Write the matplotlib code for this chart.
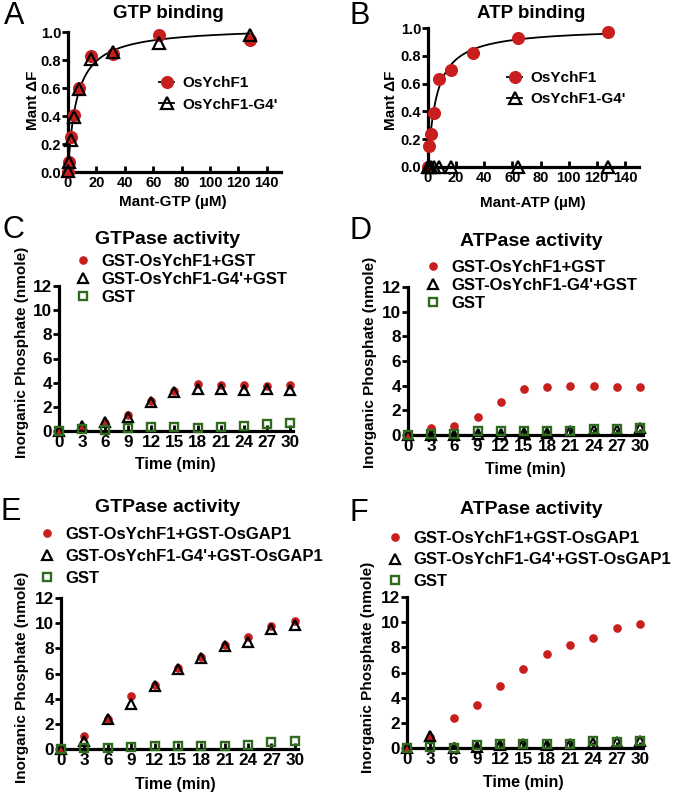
import numpy as np
import matplotlib
matplotlib.use("Agg")
import matplotlib.pyplot as plt
from matplotlib.lines import Line2D

plt.rcParams['font.family'] = ['Liberation Sans', 'DejaVu Sans']
plt.rcParams['font.weight'] = 'bold'

# ---------------- data ----------------
conc = [0, 1, 2, 4, 8, 16, 32, 64, 128]
gtp_wt = [0.0, 0.07, 0.25, 0.41, 0.60, 0.83, 0.84, 0.98, 0.94]
gtp_g4 = [0.01, 0.07, 0.23, 0.39, 0.59, 0.81, 0.86, 0.92, 0.98]
atp_wt = [0.0, 0.15, 0.24, 0.39, 0.63, 0.70, 0.82, 0.93, 0.97]
atp_g4_conc = [0, 1, 2, 4, 8, 16, 64, 128]
atp_g4 = [0, 0, 0, 0, 0, 0, 0, 0]

time = [0, 3, 6, 9, 12, 15, 18, 21, 24, 27, 30]
c_wt = [0, 0.35, 0.7, 1.3, 2.5, 3.3, 3.85, 3.8, 3.8, 3.75, 3.8]
c_g4 = [0, 0.4, 0.75, 1.2, 2.4, 3.25, 3.5, 3.45, 3.4, 3.45, 3.4]
c_gst = [0, 0.15, 0.05, 0.25, 0.3, 0.3, 0.25, 0.35, 0.45, 0.6, 0.65]

d_wt = [0, 0.55, 0.7, 1.5, 2.7, 3.7, 3.9, 3.95, 4.0, 3.9, 3.9]
d_g4 = [0, 0, 0, 0.05, 0.1, 0.2, 0.2, 0.3, 0.4, 0.4, 0.55]
d_gst = [0, 0.05, 0.05, 0.3, 0.3, 0.3, 0.3, 0.35, 0.5, 0.5, 0.6]

e_wt = [0, 1.05, 2.4, 4.2, 5.05, 6.45, 7.35, 8.25, 8.9, 9.8, 10.2]
e_g4 = [0, 0.6, 2.35, 3.6, 5.0, 6.35, 7.25, 8.2, 8.5, 9.5, 9.85]
e_gst = [0, 0.05, 0.05, 0.15, 0.25, 0.25, 0.2, 0.25, 0.35, 0.55, 0.6]

f_wt = [0, 0.9, 2.4, 3.45, 4.9, 6.3, 7.5, 8.2, 8.75, 9.55, 9.85]
f_g4 = [0, 0.95, 0, 0.1, 0.2, 0.3, 0.25, 0.35, 0.4, 0.45, 0.55]
f_gst = [0, 0.05, 0.0, 0.25, 0.3, 0.3, 0.3, 0.35, 0.55, 0.5, 0.55]

binding_xticks = [0, 20, 40, 60, 80, 100, 120, 140]
binding_yticks = [0.0, 0.2, 0.4, 0.6, 0.8, 1.0]
time_ticks = [0, 3, 6, 9, 12, 15, 18, 21, 24, 27, 30]
pi_ticks = [0, 2, 4, 6, 8, 10, 12]

RED = '#C81E1E'
GREEN = '#2F6B1F'

W, H = 676, 796
fig = plt.figure(figsize=(W / 100, H / 100), dpi=100)


def add_ax(left, xaxis_y, right, top):
    return fig.add_axes([left / W, (H - xaxis_y) / H, (right - left) / W, (xaxis_y - top) / H])


def ftext(x, y, s, **kw):
    fig.text(x / W, 1 - y / H, s, ha='center', va='center', **kw)


def style(ax, xt, yt, xlim, ylim, tsize, ylab_fmt=None):
    for s in ['top', 'right']:
        ax.spines[s].set_visible(False)
    for s in ['left', 'bottom']:
        ax.spines[s].set_linewidth(2.3)
    ax.set_xlim(*xlim)
    ax.set_ylim(*ylim)
    ax.set_xticks(xt)
    ax.set_yticks(yt)
    if ylab_fmt:
        ax.set_yticklabels([ylab_fmt.format(v) for v in yt])
    ax.tick_params(axis='x', direction='in', length=4, width=2.0, pad=3, labelsize=tsize)
    ax.tick_params(axis='y', direction='out', length=4, width=2.0, pad=1, labelsize=tsize)
    for lab in ax.get_xticklabels() + ax.get_yticklabels():
        lab.set_fontweight('bold')


def fit_one_site(x, y):
    x = np.asarray(x, float)
    y = np.asarray(y, float)
    best = (np.inf, 1.0, 1.0)
    for kd in np.linspace(0.1, 40, 4000):
        f = x / (kd + x)
        bmax = (f @ y) / (f @ f)
        sse = ((y - bmax * f) ** 2).sum()
        if sse < best[0]:
            best = (sse, bmax, kd)
    return best[1], best[2]


# ---------------- A ----------------
axA = add_ax(68, 172, 281, 32)
bm, kd = fit_one_site(conc + conc, gtp_wt + gtp_g4)
xs = np.linspace(0, max(conc), 400)
axA.plot(xs, bm * xs / (kd + xs), color='black', lw=1.3, zorder=2)
axA.plot(conc, gtp_wt, 'o', ms=8.4, mfc=RED, mec=RED, clip_on=False, zorder=3)
axA.plot(conc, gtp_g4, '^', ms=8.5, mfc='none', mec='black', mew=1.6, clip_on=False, zorder=4)
style(axA, binding_xticks, binding_yticks, (0, 150), (0, 1.0), 10.5, '{:.1f}')
hA = [Line2D([], [], color='black', lw=1.3, marker='o', ms=8.4, mfc=RED, mec=RED),
      Line2D([], [], color='black', lw=1.3, marker='^', ms=8.5, mfc='none', mec='black', mew=1.6)]
axA.legend(hA, ['OsYchF1', "OsYchF1-G4'"], loc='upper left', bbox_to_anchor=(159 / W, 1 - 76 / H),
           bbox_transform=fig.transFigure, frameon=False, borderpad=0, borderaxespad=0,
           handlelength=1.0, handletextpad=0.5, labelspacing=0.5,
           prop={'size': 11, 'weight': 'bold'})
ftext(168, 13, 'GTP binding', fontsize=13.5, fontweight='bold')
ftext(173, 202, 'Mant-GTP (\u00b5M)', fontsize=11, fontweight='bold')
ftext(33, 100, 'Mant \u0394F', fontsize=11, fontweight='bold', rotation=90)
ftext(14, 16, 'A', fontsize=22, fontweight='normal')

# ---------------- B ----------------
axB = add_ax(428, 167, 639, 28)
bm, kd = fit_one_site(conc, atp_wt)
axB.plot(xs, bm * xs / (kd + xs), color='black', lw=1.3, zorder=2)
axB.plot(conc, atp_wt, 'o', ms=8.4, mfc=RED, mec=RED, clip_on=False, zorder=3)
axB.plot(atp_g4_conc, atp_g4, '^', ms=8.5, mfc='none', mec='black', mew=1.6, clip_on=False, zorder=4)
style(axB, binding_xticks, binding_yticks, (0, 150), (0, 1.0), 10.5, '{:.1f}')
axB.legend(hA, ['OsYchF1', "OsYchF1-G4'"], loc='upper left', bbox_to_anchor=(507 / W, 1 - 71 / H),
           bbox_transform=fig.transFigure, frameon=False, borderpad=0, borderaxespad=0,
           handlelength=1.0, handletextpad=0.5, labelspacing=0.45,
           prop={'size': 11, 'weight': 'bold'})
ftext(531, 13, 'ATP binding', fontsize=13.5, fontweight='bold')
ftext(533, 203, 'Mant-ATP (\u00b5M)', fontsize=11, fontweight='bold')
ftext(391, 100, 'Mant \u0394F', fontsize=11, fontweight='bold', rotation=90)
ftext(360, 16, 'B', fontsize=22, fontweight='normal')


# ---------------- C-F ----------------
def activity(box, wt, g4, gst, labels, title, tpos, leg, lsp, ylpos, xlpos, letter, lpos):
    ax = add_ax(*box)
    ax.plot(time, wt, 'o', ms=5.2, mfc=RED, mec=RED, clip_on=False, zorder=3, label=labels[0])
    ax.plot(time, g4, '^', ms=6.8, mfc='none', mec='black', mew=1.6, clip_on=False, zorder=4, label=labels[1])
    ax.plot(time, gst, 's', ms=5.6, mfc='none', mec=GREEN, mew=1.7, clip_on=False, zorder=5, label=labels[2])
    style(ax, time_ticks, pi_ticks, (0, 30.4), (0, 12), 12.3)
    ax.legend(loc='upper left', bbox_to_anchor=(leg[0] / W, 1 - leg[1] / H),
              bbox_transform=fig.transFigure, frameon=False, borderpad=0, borderaxespad=0,
              handlelength=1.0, handletextpad=0.6, labelspacing=lsp,
              prop={'size': 12, 'weight': 'bold'})
    ftext(tpos[0], tpos[1], title, fontsize=14, fontweight='bold')
    ftext(ylpos[0], ylpos[1], 'Inorganic Phosphate (nmole)', fontsize=11, fontweight='bold', rotation=90)
    ftext(xlpos[0], xlpos[1], 'Time (min)', fontsize=11.5, fontweight='bold')
    ftext(lpos[0], lpos[1], letter, fontsize=22, fontweight='normal')
    return ax


activity((59, 431, 293, 286), c_wt, c_g4, c_gst,
         ['GST-OsYchF1+GST', "GST-OsYchF1-G4'+GST", 'GST'],
         'GTPase activity', (168, 240), (75, 254), 0.18, (22, 352), (175, 465), 'C', (13, 230))
activity((408, 435, 643, 287), d_wt, d_g4, d_gst,
         ['GST-OsYchF1+GST', "GST-OsYchF1-G4'+GST", 'GST'],
         'ATPase activity', (531, 241), (425, 260), 0.18, (370, 362), (525, 470), 'D', (361, 231))
activity((61, 749, 298, 598), e_wt, e_g4, e_gst,
         ['GST-OsYchF1+GST-OsGAP1', "GST-OsYchF1-G4'+GST-OsGAP1", 'GST'],
         'GTPase activity', (168, 508), (39, 527), 0.42, (22, 677), (175, 785), 'E', (11, 512))
activity((407, 748, 643, 597), f_wt, f_g4, f_gst,
         ['GST-OsYchF1+GST-OsGAP1', "GST-OsYchF1-G4'+GST-OsGAP1", 'GST'],
         'ATPase activity', (531, 509), (387, 531), 0.38, (368, 667), (523, 783), 'F', (359, 513))

fig.savefig('out.png', dpi=100)
